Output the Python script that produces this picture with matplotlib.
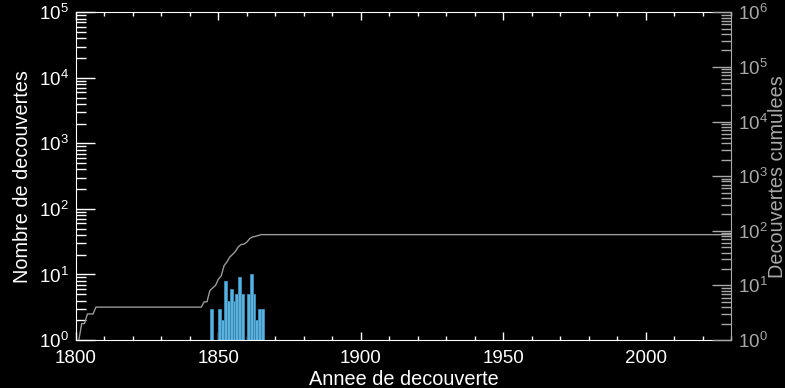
import numpy as np
import matplotlib
matplotlib.use("Agg")
import matplotlib.pyplot as plt
from matplotlib.ticker import MultipleLocator, LogLocator, LogFormatterSciNotation, NullFormatter

plt.rcParams['font.family'] = ['Liberation Sans', 'DejaVu Sans']
plt.rcParams['mathtext.fontset'] = 'custom'
plt.rcParams['mathtext.rm'] = 'Liberation Sans'
plt.rcParams['mathtext.it'] = 'Liberation Sans:italic'
plt.rcParams['mathtext.bf'] = 'Liberation Sans:bold'

# discoveries per year (years with no discovery left out)
years = [1801, 1802, 1804, 1807, 1845, 1847, 1848, 1849, 1850, 1851, 1852, 1853,
         1854, 1855, 1856, 1857, 1858, 1859, 1860, 1861, 1862, 1863, 1864, 1865]
counts = [1, 1, 1, 1, 1, 3, 1, 1, 3, 2, 8, 4,
          6, 4, 5, 9, 5, 1, 5, 10, 5, 2, 3, 3]

x_min, x_max = 1800, 2030

all_years = np.arange(1801, x_max + 1)
per_year = np.zeros(len(all_years))
for y, c in zip(years, counts):
    per_year[y - 1801] = c
cumul = np.cumsum(per_year)

white = 'white'
grey = '#a8a8a8'
fs_tick = 13.5
fs_lab = 14.3

fig = plt.figure(figsize=(7.85, 3.88), dpi=100, facecolor='black')
ax = fig.add_axes([0.0968, 0.1237, 0.8344, 0.8446], facecolor='black')

ax.bar(years, counts, width=1.0, align='edge', color='#5ab2dc',
       edgecolor='#3b88b3', linewidth=0.7, zorder=2)
ax.set_yscale('log')
ax.set_xlim(x_min, x_max)
ax.set_ylim(1, 1e5)

ax.xaxis.set_major_locator(MultipleLocator(50))
ax.xaxis.set_minor_locator(MultipleLocator(10))
ax.yaxis.set_major_locator(LogLocator(base=10, numticks=10))
ax.yaxis.set_minor_locator(LogLocator(base=10, subs=np.arange(2, 10), numticks=10))
ax.yaxis.set_major_formatter(LogFormatterSciNotation())
ax.yaxis.set_minor_formatter(NullFormatter())

ax.tick_params(axis='both', which='both', direction='in', colors=white,
               labelsize=fs_tick, top=True, right=False, width=1)
ax.tick_params(axis='y', which='major', length=14, pad=5)
ax.tick_params(axis='y', which='minor', length=7)
ax.tick_params(axis='x', which='major', length=6, pad=7)
ax.tick_params(axis='x', which='minor', length=3)
for side in ['left', 'bottom', 'top']:
    ax.spines[side].set_color(white)
ax.spines['right'].set_visible(False)

ax.set_xlabel('Annee de decouverte', color=white, fontsize=fs_lab, labelpad=2)
ax.set_ylabel('Nombre de decouvertes', color=white, fontsize=fs_lab, labelpad=5)

# cumulative count on the right axis
ax2 = ax.twinx()
ax2.plot(all_years, cumul, color='#9a9a9a', linewidth=1.0, zorder=3)
ax2.set_yscale('log')
ax2.set_ylim(1, 1e6)
ax2.set_xlim(x_min, x_max)
ax2.yaxis.set_major_locator(LogLocator(base=10, numticks=10))
ax2.yaxis.set_minor_locator(LogLocator(base=10, subs=np.arange(2, 10), numticks=10))
ax2.yaxis.set_major_formatter(LogFormatterSciNotation())
ax2.yaxis.set_minor_formatter(NullFormatter())
ax2.tick_params(axis='y', which='both', direction='in', colors=grey,
                labelsize=fs_tick, width=1)
ax2.tick_params(axis='y', which='major', length=14, pad=5)
ax2.tick_params(axis='y', which='minor', length=7)
ax2.spines['right'].set_color(grey)
for side in ['left', 'bottom', 'top']:
    ax2.spines[side].set_visible(False)
ax2.set_ylabel('Decouvertes cumulees', color=grey, fontsize=fs_lab, labelpad=0)

fig.savefig('out.png', dpi=100, facecolor='black')
